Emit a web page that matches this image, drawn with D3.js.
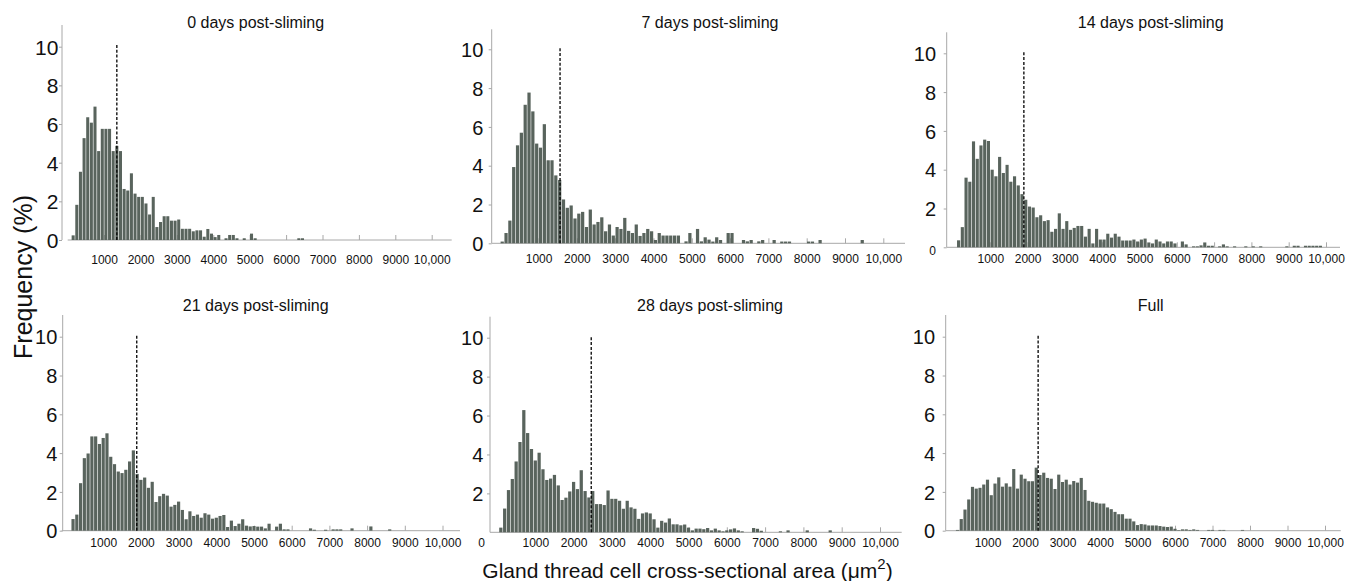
<!DOCTYPE html>
<html>
<head>
<meta charset="utf-8">
<script src="https://cdn.jsdelivr.net/npm/d3@7"></script>
<style>
    body { margin: 0; background: #fff; }
    svg text { font-family: "Liberation Sans", Arial, sans-serif; fill: #111; }
</style>
</head>
<body>
<svg id="chart" width="1357" height="581"></svg>
<script>
// ---------------------------------------------------------------
// data : frequency (%) per 100 µm² bin
var binWidth = 100;
var titles = ["0 days post-sliming", "7 days post-sliming", "14 days post-sliming",
    "21 days post-sliming", "28 days post-sliming", "Full"];
var binStarts = [100, 0, 100, 150, 50, 150];     // lower edge of the first bin
var means = [1350, 1560, 1900, 1890, 2460, 2350]; // dashed lines
var xTickValues = [1000, 2000, 3000, 4000, 5000, 6000, 7000, 8000, 9000, 10000];
var yTickValues = [0, 2, 4, 6, 8, 10];

var freqDay0 = [0.24, 1.82, 3.53, 5.27, 6.35, 6.07, 6.9, 4.6, 5.75, 5.75,
    5.75, 4.6, 4.87, 4.6, 2.64, 2.56, 3.45, 2.4, 2.23, 2.23,
    1.89, 1.32, 2.23, 0.67, 0.93, 1.23, 1.23, 1.0, 1.0, 1.06,
    0.58, 0.58, 0.58, 0.45, 0.5, 0.5, 0.17, 0.57, 0.33, 0.15,
    0.26, 0, 0.09, 0.26, 0.26, 0.09, 0, 0.09, 0, 0.33,
    0.09, 0, 0, 0, 0, 0, 0, 0, 0, 0,
    0, 0, 0.09, 0.09];
var freqDay7 = [0.09, 0.53, 1.17, 3.93, 5.05, 5.7, 7.14, 7.77, 6.8, 5.14,
    4.93, 6.14, 4.28, 4.28, 3.5, 3.26, 2.26, 1.83, 1.95, 1.28,
    1.53, 1.62, 0.84, 1.74, 0.97, 1.1, 1.34, 0.62, 0.97, 0.4,
    0.84, 0.74, 1.31, 0.64, 0.53, 0.97, 0.38, 0.53, 0.74, 0.62,
    0.17, 0.53, 0.4, 0.4, 0.4, 0.4, 0.4, 0, 0.1, 0.53,
    0, 0.74, 0.1, 0.31, 0.19, 0.09, 0.31, 0.17, 0, 0.53,
    0.53, 0, 0, 0.17, 0.1, 0.17, 0, 0.1, 0.17, 0,
    0, 0.17, 0, 0.09, 0.09, 0.09, 0, 0, 0, 0,
    0.09, 0.09, 0, 0.17, 0, 0, 0, 0, 0, 0,
    0, 0, 0, 0, 0.17];
var freqDay14 = [0.36, 1.04, 3.59, 3.38, 5.46, 4.56, 5.25, 5.55, 5.48, 4.0,
    3.66, 4.66, 3.83, 4.25, 3.38, 3.66, 3.19, 2.74, 2.45, 2.1,
    2.05, 1.55, 1.65, 1.35, 1.4, 0.8, 0.95, 1.75, 0.95, 1.35,
    0.9, 1.0, 1.1, 1.1, 0.55, 0.95, 0.2, 0.95, 0.4, 0.4,
    0.7, 0.5, 0.7, 0.55, 0.35, 0.35, 0.35, 0.4, 0.3, 0.4,
    0.45, 0.25, 0.2, 0.4, 0.3, 0.2, 0.3, 0.3, 0.2, 0,
    0.3, 0.15, 0, 0.05, 0.05, 0.1, 0.25, 0.08, 0.08, 0,
    0.05, 0.15, 0.05, 0, 0.05, 0, 0, 0.05, 0, 0.05,
    0, 0.05, 0, 0, 0, 0, 0, 0, 0.05, 0,
    0.08, 0.08, 0, 0.08, 0.08, 0.08, 0.08, 0.08];
var freqDay21 = [0.6, 0.83, 2.45, 3.74, 3.98, 4.86, 4.86, 4.47, 4.78, 5.02,
    3.81, 3.43, 3.05, 2.97, 3.14, 3.57, 4.14, 2.93, 2.62, 2.74,
    2.21, 2.52, 1.48, 1.78, 1.9, 1.81, 1.24, 1.33, 1.5, 1.07,
    0.59, 1.0, 0.76, 0.83, 0.67, 0.9, 0.83, 0.62, 0.67, 0.76,
    0.81, 0.19, 0.52, 0.24, 0.36, 0.59, 0.26, 0.22, 0.24, 0.21,
    0.21, 0.12, 0.36, 0, 0.21, 0.36, 0.07, 0.07, 0, 0,
    0, 0, 0, 0.12, 0.05, 0, 0, 0.05, 0, 0.07,
    0.07, 0.07, 0, 0, 0.12, 0, 0, 0, 0, 0.22,
    0, 0, 0, 0, 0.07];
var freqDay28 = [0.24, 1.22, 2.17, 2.74, 3.64, 4.64, 6.28, 5.1, 4.28, 3.69,
    4.09, 3.24, 2.69, 2.76, 2.95, 2.41, 1.66, 1.78, 2.1, 2.59,
    2.22, 3.19, 2.12, 1.79, 2.12, 1.45, 1.45, 1.4, 2.15, 1.72,
    1.72, 1.62, 1.21, 1.62, 1.28, 1.21, 0.69, 0.97, 1.02, 0.97,
    0.67, 0.24, 0.59, 0.5, 0.71, 0.41, 0.41, 0.36, 0.4, 0.24,
    0.1, 0.19, 0.19, 0.16, 0.22, 0.1, 0.19, 0.1, 0.05, 0.1,
    0.15, 0.2, 0.1, 0.05, 0, 0, 0.22, 0.18, 0.08, 0,
    0, 0, 0, 0.05, 0, 0.1, 0, 0, 0, 0,
    0.1, 0, 0, 0, 0, 0, 0.1];
var freqFull = [0.04, 0.6, 1.09, 1.61, 2.26, 2.17, 2.21, 2.38, 2.63, 1.83,
    2.43, 2.75, 2.27, 2.44, 2.27, 3.18, 2.17, 2.89, 2.68, 2.55,
    2.55, 3.25, 2.87, 2.99, 2.72, 2.68, 2.15, 2.89, 2.51, 2.63,
    2.38, 2.56, 2.48, 2.72, 2.1, 1.54, 1.49, 1.44, 1.4, 1.4,
    1.2, 1.11, 0.97, 0.85, 0.85, 0.62, 0.62, 0.48, 0.29, 0.34,
    0.32, 0.27, 0.27, 0.27, 0.24, 0.21, 0.19, 0.21, 0.1, 0.03,
    0.07, 0.07, 0.04, 0.07, 0.04, 0, 0, 0.04, 0.04, 0,
    0.04, 0.04, 0, 0, 0, 0, 0.04];
var series = [freqDay0, freqDay7, freqDay14, freqDay21, freqDay28, freqFull];

// ---------------------------------------------------------------
// panel geometry (pixels): y axis x, x of 0 and 10,000, axis ends, y of 0 and 10
var layout = [
    { axisX: 62, x0: 67.7, x1: 431.7, xStart: 67.7, xEnd: 451.7, y0: 240, y1: 46.7, yTop: 25, tx: 255.7, ty: 22.7, yPad: 0.7, yFont: 21, xLab: 19.3 },
    { axisX: 491.7, x0: 500.3, x1: 883.3, xStart: 491.7, xEnd: 905, y0: 243.3, y1: 49.3, yTop: 29.3, tx: 710, ty: 22.7, yPad: 5.4, yFont: 20, xLab: 16 },
    { axisX: 946.7, x0: 953, x1: 1326, xStart: 946.7, xEnd: 1340, y0: 247.3, y1: 53.3, yTop: 32.3, tx: 1150.7, ty: 22.7, yPad: 7.7, yFont: 20, xLab: 12, smallZero: true },
    { axisX: 62.7, x0: 65.5, x1: 442.5, xStart: 61.7, xEnd: 460, y0: 530.7, y1: 336.7, yTop: 315, tx: 255.7, ty: 305, yPad: 2.4, yFont: 20, xLab: 12 },
    { axisX: 490, x0: 497, x1: 880, xStart: 490, xEnd: 901.7, y0: 532.3, y1: 337.7, yTop: 316.7, tx: 710, ty: 305, yPad: 3.7, yFont: 20, xLab: 11, zeroOnX: true },
    { axisX: 945.7, x0: 950, x1: 1325, xStart: 945.7, xEnd: 1340.7, y0: 530.7, y1: 336.7, yTop: 315, tx: 1150.7, ty: 305, yPad: 7.7, yFont: 20, xLab: 12 }
];
var axisColor = "#a8a8a8",
    barColor = "#59645d",
    meanTop = 10.1;

var svg = d3.select("#chart");

series.forEach(function (values, n) {
    var L = layout[n];
    var x = d3.scaleLinear().domain([0, 10000]).range([L.x0, L.x1]);
    var y = d3.scaleLinear().domain([0, 10]).range([L.y0, L.y1]);
    var g = svg.append("g").attr("class", "panel");

    // title
    g.append("text")
        .attr("x", L.tx).attr("y", L.ty)
        .attr("text-anchor", "middle")
        .attr("dominant-baseline", "central")
        .style("font-size", "16px")
        .text(titles[n]);

    // axis lines
    g.append("line")
        .attr("x1", L.axisX).attr("x2", L.axisX)
        .attr("y1", L.y0).attr("y2", L.yTop)
        .attr("stroke", axisColor).attr("stroke-width", 1);
    g.append("line")
        .attr("x1", L.xStart).attr("x2", L.xEnd)
        .attr("y1", L.y0).attr("y2", L.y0)
        .attr("stroke", axisColor).attr("stroke-width", 1);

    // y axis
    var yVals = L.zeroOnX ? yTickValues.filter(d => d > 0) : yTickValues;
    var yAxis = d3.axisLeft(y).tickValues(yVals).tickSize(3).tickPadding(L.yPad);
    var ya = g.append("g").attr("transform", `translate(${L.axisX},0)`).call(yAxis);
    ya.select(".domain").remove();
    ya.selectAll("line").attr("stroke", axisColor);
    ya.selectAll("text")
        .attr("font-family", null)
        .style("font-size", L.yFont + "px")
        .attr("dy", "0.36em");
    if (L.smallZero) {
        ya.selectAll("text").filter(d => d === 0)
            .style("font-size", "12px")
            .attr("dy", "0.6em");
    }

    // x axis (ticks point inward, hidden behind the bars)
    var xVals = L.zeroOnX ? [0].concat(xTickValues) : xTickValues;
    var xAxis = d3.axisBottom(x)
        .tickValues(xVals)
        .tickSize(-5)
        .tickFormat(d => d >= 10000 ? d3.format(",")(d) : String(d));
    var xa = g.append("g").attr("transform", `translate(0,${L.y0})`).call(xAxis);
    xa.select(".domain").remove();
    xa.selectAll("line").attr("stroke", axisColor);
    xa.selectAll("text")
        .attr("font-family", null)
        .attr("y", L.xLab)
        .attr("dy", "0.35em")
        .style("font-size", "12px");
    if (L.zeroOnX) {
        xa.selectAll(".tick").filter(d => d === 0).select("line").remove();
        xa.selectAll("text").filter(d => d === 0).attr("dx", -16);
    }

    // bars
    var bins = values.map(function (v, i) {
        return { lo: binStarts[n] + i * binWidth, v: v };
    }).filter(d => d.v > 0);
    g.append("g")
        .selectAll("rect")
        .data(bins)
        .join("rect")
        .attr("x", d => x(d.lo) + 0.3)
        .attr("width", d => x(d.lo + binWidth) - x(d.lo) - 0.6)
        .attr("y", d => y(d.v))
        .attr("height", d => y(0) - y(d.v))
        .attr("fill", barColor);

    // dashed mean line
    g.append("line")
        .attr("x1", x(means[n])).attr("x2", x(means[n]))
        .attr("y1", y(0)).attr("y2", y(meanTop))
        .attr("stroke", "#000")
        .attr("stroke-width", 1.3)
        .attr("stroke-dasharray", "3,1.8");
});

// ---------------------------------------------------------------
// shared axis titles
svg.append("text")
    .attr("transform", "translate(32,277) rotate(-90)")
    .attr("text-anchor", "middle")
    .style("font-size", "25px")
    .text("Frequency (%)");

var xt = svg.append("text")
    .attr("x", 687.5).attr("y", 570)
    .attr("text-anchor", "middle")
    .attr("dominant-baseline", "central")
    .style("font-size", "21px");
xt.append("tspan").text("Gland thread cell cross-sectional area (\u03bcm");
xt.append("tspan").attr("dy", -7).style("font-size", "15px").text("2");
xt.append("tspan").attr("dy", 7).text(")");
</script>
</body>
</html>
